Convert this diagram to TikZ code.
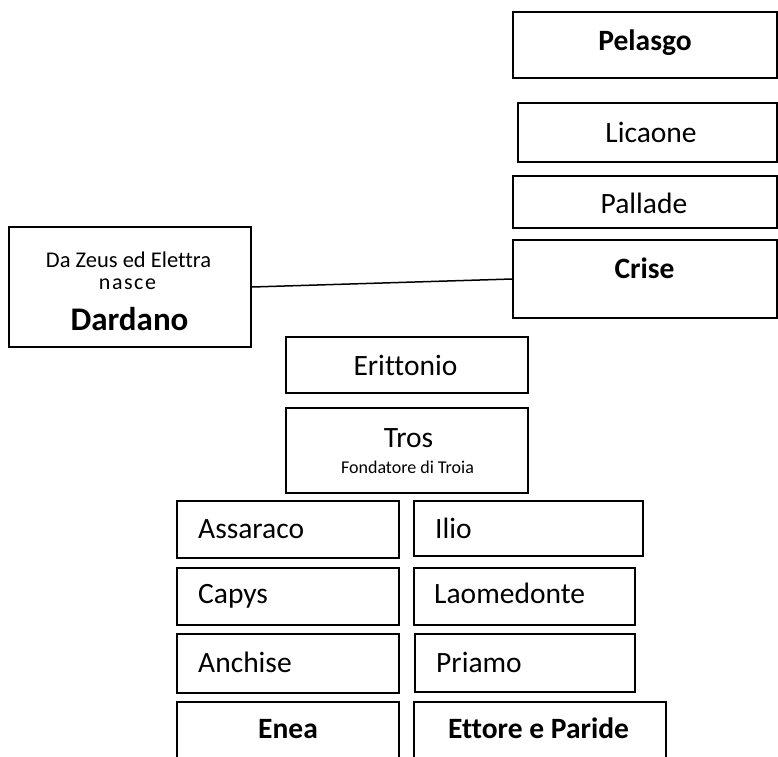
\documentclass[tikz,border=0pt]{standalone}
\usepackage{fontspec}
\setmainfont{Carlito}[Ligatures=NoCommon]
\begin{document}
\begin{tikzpicture}[x=1pt,y=-1pt,
  boxstyle/.style={draw=black,line width=1.8pt,fill=white,inner sep=0pt},
  txt/.style={anchor=base,inner sep=0pt,font=\fontsize{29.5}{32}\selectfont},
  txtl/.style={anchor=base west,inner sep=0pt,font=\fontsize{29.5}{32}\selectfont},
  btxt/.style={anchor=base,inner sep=0pt,font=\fontsize{29.5}{32}\selectfont\bfseries}]
\useasboundingbox (0,0) rectangle (778,756);
% boxes
\newcommand{\famebox}[5]{\node[boxstyle,minimum width={#4-#2},minimum height={#5-#3}] (#1) at ({(#2+#4)/2},{(#3+#5)/2}) {};}
\famebox{pel}{513}{12}{777}{78}
\famebox{lic}{518}{103}{777}{162}
\famebox{pal}{513}{176}{777}{228}
\famebox{cri}{513}{240}{777}{318}
\famebox{dar}{9}{227}{251}{347}
\famebox{eri}{286}{337}{528}{393}
\famebox{tro}{286}{408}{528}{493}
\famebox{ass}{177}{501}{399}{558}
\famebox{ili}{414}{501}{643}{556}
\famebox{cap}{177}{568}{399}{625}
\famebox{lao}{414}{568}{635}{625}
\famebox{anc}{177}{634}{399}{693}
\famebox{pri}{415}{634}{635}{692}
\famebox{ene}{177}{702}{399}{780}
\famebox{ett}{414}{702}{666}{780}
% connector
\draw[line width=1.5pt] (dar.east) -- (cri.west);
% texts
\node[btxt] (tpel) at (645,50) {Pelasgo};
\node[txt] (tlic) at (651,142) {Licaone};
\node[txt] (tpal) at (644,213) {Pallade};
\node[btxt] (tcri) at (644.5,278) {Crise};
\node[anchor=base,inner sep=0pt,font=\fontsize{22.5}{24}\selectfont] (tdz) at (128.5,267) {Da Zeus ed Elettra};
\node[anchor=base,inner sep=0pt,font=\fontsize{22}{24}\selectfont\addfontfeature{LetterSpace=7}] (tna) at (127.5,289) {nasce};
\node[anchor=base,inner sep=0pt,font=\fontsize{33}{36}\selectfont\bfseries] (tdar) at (129.5,330) {Dardano};
\node[txt] (teri) at (405.5,375) {Erittonio};
\node[txt] (ttro) at (408.5,447) {Tros};
\node[anchor=base,inner sep=0pt,font=\fontsize{18}{20}\selectfont] (tfon) at (407.5,473) {Fondatore di Troia};
\node[txtl] (tass) at (198,538) {Assaraco};
\node[txtl] (tili) at (435,538) {Ilio};
\node[txtl] (tcap) at (198,603) {Capys};
\node[txtl] (tlao) at (434,603) {Laomedonte};
\node[txtl] (tanc) at (198,672) {Anchise};
\node[txtl] (tpri) at (436,672) {Priamo};
\node[btxt] (tene) at (288,738) {Enea};
\node[btxt] (tett) at (538.5,738) {Ettore e Paride};
\end{tikzpicture}
\end{document}
